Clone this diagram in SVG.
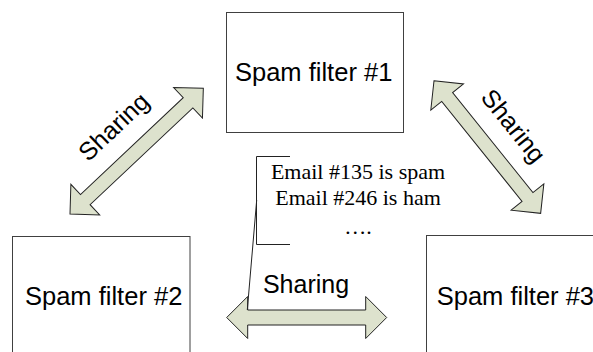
<svg xmlns="http://www.w3.org/2000/svg" width="593" height="352" viewBox="0 0 593 352">
<style>
.box{fill:#ffffff;stroke:#404040;stroke-width:1}
.lbl{font-family:"Liberation Sans",Arial,sans-serif;font-size:25px;fill:#000}
.big{font-size:25.5px}
.arr{fill:#dde2cd;stroke:#222;stroke-width:1;stroke-linejoin:miter}
.note{font-family:"Liberation Serif","Times New Roman",serif;font-size:22px;fill:#000;text-anchor:middle}
.line{fill:none;stroke:#222;stroke-width:1}
</style>
<rect width="593" height="352" fill="#ffffff"/>
<g id="connectors">
  <polygon class="arr" transform="translate(70,214) rotate(-43.3)" points="0,0 21,-21 21,-7 162.2,-7 162.2,-21 183.2,0 162.2,21 162.2,7 21,7 21,21"/>
  <polygon class="arr" transform="translate(434,80.7) rotate(51.2)" points="0,0 21,-21 21,-7 149.2,-7 149.2,-21 170.2,0 149.2,21 149.2,7 21,7 21,21"/>
  <polygon class="arr" transform="translate(226.7,317.5) rotate(0)" points="0,0 21,-21 21,-7.5 139,-7.5 139,-21 160,0 139,21 139,7.5 21,7.5 21,21"/>
  <text class="lbl" text-anchor="middle" transform="translate(119.5,133) rotate(-43.3)">Sharing</text>
  <text class="lbl" text-anchor="middle" transform="translate(506.8,131.3) rotate(51.2)">Sharing</text>
  <text class="lbl" text-anchor="middle" x="306" y="293">Sharing</text>
</g>
<g id="filter1">
  <rect class="box" x="226.5" y="12.5" width="177" height="120"/>
  <text class="lbl big" x="235" y="81">Spam filter #1</text>
</g>
<g id="filter2">
  <rect class="box" x="12.5" y="236.5" width="177.5" height="130"/>
  <text class="lbl big" x="25" y="305">Spam filter #2</text>
</g>
<g id="filter3">
  <rect class="box" x="426.5" y="235.5" width="190" height="130"/>
  <text class="lbl big" x="436.7" y="305">Spam filter #3</text>
</g>
<g id="callout">
  <path class="line" d="M290,156.5 H256.5 V244.5 H290"/>
  <path class="line" d="M256.7,200 L247.3,310"/>
  <text class="note" x="358" y="179">Email #135 is spam</text>
  <text class="note" x="358" y="205">Email #246 is ham</text>
  <text class="note" x="358" y="234">….</text>
</g>
</svg>
